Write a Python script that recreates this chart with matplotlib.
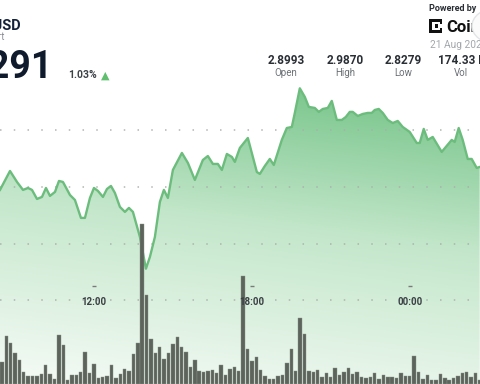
import numpy as np
import matplotlib
matplotlib.use("Agg")
import matplotlib.pyplot as plt
from matplotlib.colors import LinearSegmentedColormap
from matplotlib.patches import Polygon, Rectangle, Circle
import matplotlib.transforms as mtransforms

# ---------------- data ----------------
# price trace: time in hours (24 = 00:00 next day), price in USD
price_t = [8.430, 8.810, 9.076, 9.304, 9.494, 9.646, 9.835, 10.025, 10.177, 10.329,
           10.519, 10.671, 10.823, 11.089, 11.278, 11.506, 11.658, 11.848, 12.000, 12.152,
           12.342, 12.494, 12.646, 12.797, 12.987, 13.177, 13.329, 13.481, 13.747, 13.975,
           14.127, 14.316, 14.506, 14.658, 14.810, 15.000, 15.342, 15.570, 15.835, 16.139,
           16.329, 16.519, 16.709, 16.861, 17.051, 17.241, 17.354, 17.544, 17.848, 18.190,
           18.304, 18.494, 18.684, 18.835, 19.139, 19.329, 19.519, 19.633, 19.823, 20.013,
           20.165, 20.392, 20.544, 20.696, 20.886, 21.038, 21.228, 21.418, 21.570, 21.722,
           21.835, 22.025, 22.215, 22.405, 22.557, 22.671, 22.823, 22.975, 23.165, 23.354,
           23.544, 23.734, 24.000, 24.266, 24.380, 24.532, 24.684, 24.873, 25.215, 25.405,
           25.595, 25.709, 25.861, 26.013, 26.203, 26.354, 26.544, 26.658]
price_v = [2.8974, 2.9141, 2.9044, 2.8974, 2.8991, 2.8974, 2.8894, 2.8912, 2.8991, 2.8921,
           2.8956, 2.9053, 2.9044, 2.8929, 2.8885, 2.8727, 2.8727, 2.8903, 2.8991, 2.8965,
           2.8912, 2.8982, 2.9009, 2.8947, 2.8824, 2.8780, 2.8815, 2.8780, 2.8559, 2.8279,
           2.8383, 2.8559, 2.8868, 2.8974, 2.8903, 2.9150, 2.9300, 2.9212, 2.9062, 2.9238,
           2.9273, 2.9203, 2.9203, 2.9150, 2.9291, 2.9265, 2.9221, 2.9344, 2.9432, 2.9132,
           2.9115, 2.9185, 2.9247, 2.9194, 2.9415, 2.9520, 2.9529, 2.9653, 2.9870, 2.9794,
           2.9706, 2.9697, 2.9662, 2.9688, 2.9697, 2.9759, 2.9591, 2.9591, 2.9617, 2.9662,
           2.9662, 2.9626, 2.9644, 2.9653, 2.9653, 2.9679, 2.9688, 2.9653, 2.9591, 2.9564,
           2.9582, 2.9529, 2.9485, 2.9388, 2.9388, 2.9512, 2.9415, 2.9441, 2.9309, 2.9362,
           2.9415, 2.9397, 2.9520, 2.9415, 2.9247, 2.9247, 2.9168, 2.9176]

# volume: 10-minute bars starting 08:30 (relative units)
vol_start = 8.5
vol_step = 1.0 / 6.0
volume = [22, 48, 41, 31, 24, 12, 8, 8, 8, 10, 19, 10, 5, 49, 39, 4, 9, 9, 12, 32,
          11, 20, 6, 7, 8, 19, 6,
          10, 15, 13, 30, 41, 160, 89, 45, 31, 37, 25, 31, 40, 47, 37, 32, 17, 24, 13, 12,
          13, 14, 11, 19, 9, 15, 17, 13,
          108, 35, 23, 27, 14, 8, 5, 5, 8, 9, 21, 35, 13, 66, 50, 13, 12, 14, 7, 11, 7,
          16, 9, 12, 16, 10, 12,
          7, 6, 7, 11, 5, 9, 7, 7, 6, 11, 8, 8, 28, 12, 5, 9, 4, 4, 10, 6, 4, 6, 8, 11,
          12, 7, 11, 4]

tick_hours = [12, 18, 24]
tick_labels = ["12:00", "18:00", "00:00"]
grid_levels = [2.80, 2.85, 2.90, 2.95]

stat_values = ["2.8993", "2.9870", "2.8279", "174.33 M"]
stat_labels = ["Open", "High", "Low", "Vol"]

# ---------------- figure ----------------
W, H = 480, 384
fig = plt.figure(figsize=(4.8, 3.84), dpi=100)
fig.patch.set_facecolor("white")
ax = fig.add_axes([0, 0, 1, 1])
xmin, xmax = 8.43, 26.67
ymin, ymax = 2.7262, 3.0649
ax.set_xlim(xmin, xmax)
ax.set_ylim(ymin, ymax)
ax.axis("off")

FONT = "Roboto"

# gradient fill under the line
cmap = LinearSegmentedColormap.from_list(
    "g", [(0.0, "#f3faf4"), (0.45, "#c4e7cb"), (0.8, "#7dc78f"), (1.0, "#6cbf80")])
ny, nx = 200, 120
yy, xx = np.mgrid[1:0:ny * 1j, 0:1:nx * 1j]
tval = np.clip(0.95 * yy + 0.15 * xx - 0.02, 0, 1)
im = ax.imshow(tval, cmap=cmap, vmin=0, vmax=1, extent=[xmin, xmax, ymin, ymax],
               aspect="auto", origin="upper", zorder=1, interpolation="bilinear")
poly_xy = np.column_stack([[price_t[0]] + price_t + [price_t[-1]],
                           [ymin] + price_v + [ymin]])
poly = Polygon(poly_xy, closed=True, transform=ax.transData, facecolor="none", edgecolor="none")
ax.add_patch(poly)
im.set_clip_path(poly)

# grid lines
for g in grid_levels:
    ax.axhline(g, color="#a9aea9", lw=1.1, ls=(0, (1, 8)), zorder=2, alpha=0.9)

ax.plot(price_t, price_v, color="#6cbd7d", lw=1.7, zorder=3, solid_joinstyle="round")

# volume bars on twin axis
axv = ax.twinx()
axv.set_ylim(0, 384)
axv.set_xlim(xmin, xmax)
axv.axis("off")
vol_x = vol_start + vol_step * np.arange(len(volume))
axv.bar(vol_x, volume, width=vol_step * 0.78, color="#5c645b", edgecolor="#8a9188",
        linewidth=0.3, zorder=4)

# time ticks and labels inside the plot (drawn above the bars)
trans = mtransforms.blended_transform_factory(axv.transData, axv.transAxes)
axv.plot(tick_hours, [1 - 286 / H] * len(tick_hours), ls="none", marker="_", ms=2.5,
         mew=1.0, color="#7a7a7a", transform=trans, zorder=6)
for h, lab in zip(tick_hours, tick_labels):
    axv.text(h, 1 - 302 / H, lab, transform=trans, ha="center", va="center",
             fontsize=7, fontweight="bold", color="#3a3f44", family=FONT, zorder=7)


def fx(x):
    return x / W


def fy(y):
    return 1 - y / H


# header left
fig.text(fx(21), fy(29), "XRP/USD", ha="right", va="baseline", fontsize=10.5,
         fontweight="bold", color="#14213a", family=FONT)
fig.text(fx(5), fy(40), "Chart", ha="right", va="baseline", fontsize=7,
         color="#8a8f95", family=FONT)
fig.text(fx(53), fy(78), "2.9291", ha="right", va="baseline", fontsize=27,
         fontweight="bold", color="#0f1a2c", family=FONT)
fig.text(fx(68), fy(78), "1.03%", ha="left", va="baseline", fontsize=7.5,
         fontweight="bold", color="#3d4247", family=FONT)
fig.text(fx(105), fy(79), "\u25B2", ha="center", va="baseline", fontsize=8,
         color="#5fbf6f", family="DejaVu Sans")

# header right
fig.text(fx(429), fy(11), "Powered by", ha="left", va="baseline", fontsize=6.5,
         fontweight="bold", color="#2a2f35", family=FONT)
# CoinDesk icon (small bracket shape of squares)
for (rx, ry, rw, rh) in [(429, 19, 3, 14), (432, 19, 10, 3), (432, 30, 10, 3),
                         (435, 24, 3, 4), (440, 22, 2, 2), (440, 28, 2, 2)]:
    fig.patches.append(Rectangle((fx(rx), fy(ry + rh)), rw / W, rh / H,
                                 transform=fig.transFigure, facecolor="#111111",
                                 edgecolor="none"))
fig.text(fx(446), fy(32), "CoinDesk", ha="left", va="baseline", fontsize=12,
         fontweight="bold", color="#111111", family=FONT)
fig.text(fx(430), fy(48), "21 Aug 2025", ha="left", va="baseline", fontsize=7.3,
         color="#a3a7ab", family=FONT)
circ = Circle((fx(493), fy(26)), 21 / W, transform=fig.transFigure,
              facecolor="#fbfbfb", edgecolor="#e2e4e6", lw=1.0, zorder=10)
fig.patches.append(circ)

# stats
stat_cx = [286, 345, 403, 461]
for cx, v, lab in zip(stat_cx, stat_values, stat_labels):
    if lab == "Vol":
        fig.text(fx(438), fy(64), v, ha="left", va="baseline", fontsize=8.5,
                 fontweight="bold", color="#2a2f35", family=FONT)
    else:
        fig.text(fx(cx), fy(64), v, ha="center", va="baseline", fontsize=8.5,
                 fontweight="bold", color="#2a2f35", family=FONT)
    fig.text(fx(cx), fy(76), lab, ha="center", va="baseline", fontsize=7,
             color="#6b7075", family=FONT)

fig.savefig("out.png", dpi=100, facecolor="white")
